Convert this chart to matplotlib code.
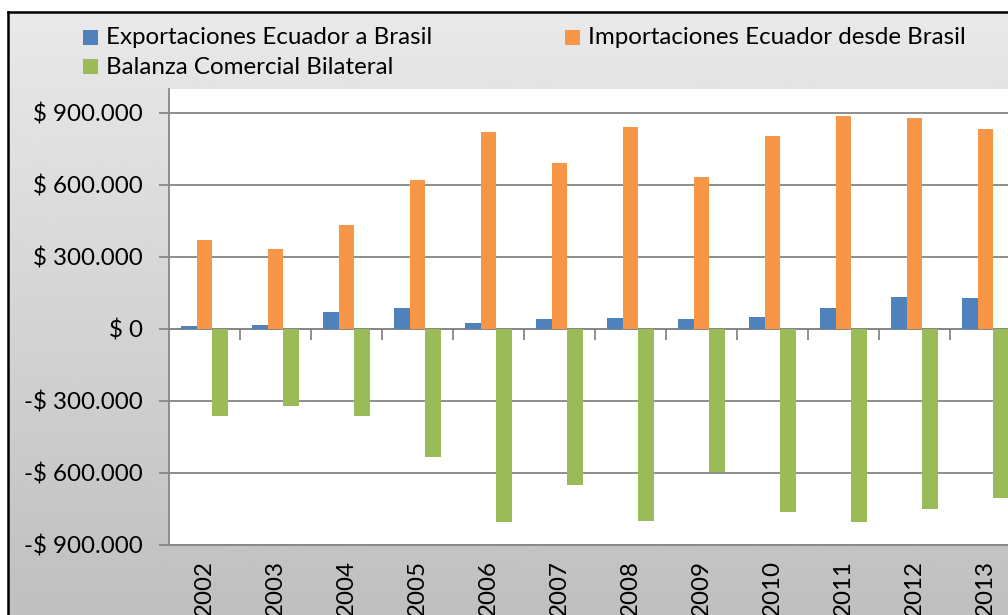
import numpy as np
import matplotlib
matplotlib.use("Agg")
import matplotlib.pyplot as plt
from matplotlib.patches import Rectangle
from matplotlib.ticker import FuncFormatter

years = ["2002", "2003", "2004", "2005", "2006", "2007", "2008", "2009", "2010", "2011", "2012", "2013"]
exportaciones = [11000, 17000, 71000, 88000, 25000, 40000, 45000, 40000, 50000, 87000, 134000, 130000]
importaciones = [372000, 333000, 434000, 621000, 822000, 690000, 840000, 632000, 806000, 888000, 880000, 832000]
balanza = [-364000, -319000, -362000, -535000, -803000, -652000, -799000, -597000, -761000, -806000, -752000, -706000]
series_names = ["Exportaciones Ecuador a Brasil", "Importaciones Ecuador desde Brasil", "Balanza Comercial Bilateral"]
colors = ["#4F81BD", "#F79646", "#9BBB59"]

plt.rcParams["font.family"] = ["Lato", "DejaVu Sans"]
FS = 17.4
W, H = 1008, 615
fig = plt.figure(figsize=(W / 100, H / 100), dpi=100)
fig.patch.set_facecolor("white")

# gradient chart background
bg = fig.add_axes([8 / W, 0, 1 - 8 / W, 1 - 12 / H], zorder=0)
grad = np.linspace(0.75, 0.915, 256).reshape(-1, 1)
bg.imshow(grad, aspect="auto", cmap="gray", vmin=0, vmax=1, origin="lower",
          extent=[0, 1, 0, 1], interpolation="bicubic")
bg.set_xlim(0, 1); bg.set_ylim(0, 1)
bg.set_axis_off()
fig.add_artist(plt.Line2D([8 / W, 8 / W], [0, 1 - 12 / H], color="black", lw=1.8, transform=fig.transFigure))
fig.add_artist(plt.Line2D([8 / W, 1], [1 - 12 / H, 1 - 12 / H], color="black", lw=1.8, transform=fig.transFigure))

left, right = 169 / W, 1021 / W
bottom, top = 1 - 545 / H, 1 - 89 / H
ax = fig.add_axes([left, bottom, right - left, top - bottom], zorder=2)
ax.set_facecolor("white")

n = len(years)
x = np.arange(n)
bw = 0.22
data = [exportaciones, importaciones, balanza]
for i, (vals, c) in enumerate(zip(data, colors)):
    ax.bar(x + (i - 1) * bw, vals, width=bw, color=c, zorder=3, label=series_names[i])

ax.set_xlim(-0.5, n - 0.5)
ax.set_ylim(-900000, 1000000)
yt = np.arange(-900000, 900001, 300000)
ax.set_yticks(yt)

def fmt(v, pos):
    v = int(round(v))
    s = f"{abs(v):,}".replace(",", ".")
    return ("-$ " if v < 0 else "$ ") + s

ax.yaxis.set_major_formatter(FuncFormatter(fmt))
ax.grid(axis="y", color="#868686", lw=1.3, zorder=1)
ax.set_axisbelow(True)
ax.tick_params(axis="y", length=7, width=1.3, color="#868686", labelsize=FS, pad=12, direction="out")
ax.set_xticks(x)
ax.set_xticklabels(years, rotation=90, fontsize=FS, va="top")
ax.tick_params(axis="x", length=0, pad=11)
for s in ["top", "right"]:
    ax.spines[s].set_visible(False)
ax.spines["left"].set_color("#868686")
ax.spines["left"].set_linewidth(1.3)
ax.spines["bottom"].set_color("#868686")
ax.spines["bottom"].set_linewidth(1.3)
# category tick marks on zero line
ax.plot(x[:-1] + 0.5, np.zeros(n - 1), linestyle="none", marker=3, ms=8, mew=1.3, color="#868686", zorder=2)
ax.axhline(0, color="#868686", lw=1.3, zorder=2)

# legend
legend_pos = [(83, 38), (565, 38), (83, 67)]
for (px, py), name, c in zip(legend_pos, series_names, colors):
    fig.patches.append(Rectangle((px / W, 1 - (py + 7) / H), 15 / W, 15 / H, transform=fig.transFigure,
                                 facecolor=c, edgecolor="none", zorder=3))
    fig.text((px + 23) / W, 1 - py / H, name, fontsize=FS, va="center", ha="left", zorder=3)

fig.savefig("out.png", dpi=100)
